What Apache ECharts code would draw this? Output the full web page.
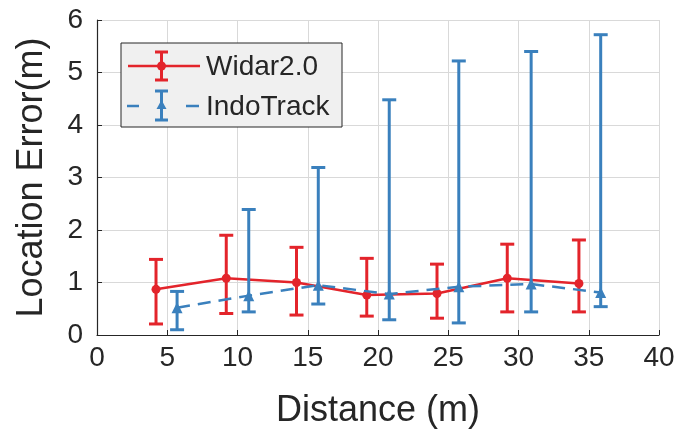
<!DOCTYPE html>
<html>
<head>
<meta charset="utf-8">
<script src="https://cdn.jsdelivr.net/npm/echarts@6/dist/echarts.min.js"></script>
<style>
html,body{margin:0;padding:0;background:#fff;}
#chart{width:687px;height:439px;}
</style>
</head>
<body>
<div id="chart"></div>
<script>
// Data
const widarX    = [4.2, 9.2, 14.2, 19.2, 24.2, 29.2, 34.3];
const widarY    = [0.87, 1.08, 1.00, 0.76, 0.79, 1.08, 0.98];
const widarLow  = [0.21, 0.41, 0.38, 0.36, 0.32, 0.44, 0.44];
const widarHigh = [1.44, 1.90, 1.67, 1.46, 1.35, 1.73, 1.81];

const indoX    = [5.7, 10.8, 15.75, 20.8, 25.75, 30.9, 35.85];
const indoY    = [0.52, 0.75, 0.95, 0.78, 0.92, 0.97, 0.81];
const indoLow  = [0.10, 0.44, 0.59, 0.29, 0.23, 0.44, 0.54];
const indoHigh = [0.83, 2.39, 3.19, 4.48, 5.22, 5.40, 5.72];

const xTicks = [0, 5, 10, 15, 20, 25, 30, 35, 40];
const yTicks = [0, 1, 2, 3, 4, 5, 6];

const seriesNames = ['Widar2.0', 'IndoTrack'];
const RED = '#e3242b';
const BLUE = '#3a80bd';
const FONT = 'Liberation Sans, Arial, Helvetica, sans-serif';
const TXT = '#262626';

function pairs(xs, ys) { return xs.map((x, i) => [x, ys[i]]); }
function errData(xs, lo, hi) { return xs.map((x, i) => [x, lo[i], hi[i]]); }

function errRender(color) {
  return function (params, api) {
    const x = api.value(0);
    const pLo = api.coord([x, api.value(1)]);
    const pHi = api.coord([x, api.value(2)]);
    const hw = 7;
    const st = { stroke: color, lineWidth: 3 };
    return {
      type: 'group',
      children: [
        { type: 'line', shape: { x1: pLo[0], y1: pLo[1], x2: pHi[0], y2: pHi[1] }, style: st },
        { type: 'line', shape: { x1: pLo[0] - hw, y1: pLo[1], x2: pLo[0] + hw, y2: pLo[1] }, style: st },
        { type: 'line', shape: { x1: pHi[0] - hw, y1: pHi[1], x2: pHi[0] + hw, y2: pHi[1] }, style: st }
      ]
    };
  };
}

const chart = echarts.init(document.getElementById('chart'), null, { renderer: 'canvas' });

const legendGraphic = [
  { type: 'rect', shape: { x: 121, y: 43, width: 221, height: 84 },
    style: { fill: '#f0f0f0', stroke: '#262626', lineWidth: 1 }, z: 100 },
  // Widar2.0 icon
  { type: 'line', shape: { x1: 128, y1: 66, x2: 200, y2: 66 }, style: { stroke: RED, lineWidth: 2.5 }, z: 101 },
  { type: 'line', shape: { x1: 161.5, y1: 52, x2: 161.5, y2: 80 }, style: { stroke: RED, lineWidth: 3 }, z: 101 },
  { type: 'line', shape: { x1: 155, y1: 52, x2: 168, y2: 52 }, style: { stroke: RED, lineWidth: 3 }, z: 101 },
  { type: 'line', shape: { x1: 155, y1: 80, x2: 168, y2: 80 }, style: { stroke: RED, lineWidth: 3 }, z: 101 },
  { type: 'circle', shape: { cx: 161.5, cy: 66, r: 4.5 }, style: { fill: RED }, z: 101 },
  { type: 'text', x: 206, y: 67, style: { text: seriesNames[0], font: '28px ' + FONT, fill: TXT, textVerticalAlign: 'middle' }, z: 101 },
  // IndoTrack icon
  { type: 'line', shape: { x1: 127, y1: 106, x2: 139, y2: 106 }, style: { stroke: BLUE, lineWidth: 2.5 }, z: 101 },
  { type: 'line', shape: { x1: 186, y1: 106, x2: 199, y2: 106 }, style: { stroke: BLUE, lineWidth: 2.5 }, z: 101 },
  { type: 'line', shape: { x1: 161.5, y1: 91, x2: 161.5, y2: 120 }, style: { stroke: BLUE, lineWidth: 3 }, z: 101 },
  { type: 'line', shape: { x1: 155, y1: 91, x2: 168, y2: 91 }, style: { stroke: BLUE, lineWidth: 3 }, z: 101 },
  { type: 'line', shape: { x1: 155, y1: 120, x2: 168, y2: 120 }, style: { stroke: BLUE, lineWidth: 3 }, z: 101 },
  { type: 'polygon', shape: { points: [[161.5, 100], [156.5, 109], [166.5, 109]] }, style: { fill: BLUE }, z: 101 },
  { type: 'text', x: 206, y: 107, style: { text: seriesNames[1], font: '28px ' + FONT, fill: TXT, textVerticalAlign: 'middle' }, z: 101 }
];

const option = {
  animation: false,
  backgroundColor: '#ffffff',
  grid: { left: 97, right: 28, top: 20, bottom: 104, containLabel: false },
  xAxis: {
    type: 'value', min: xTicks[0], max: xTicks[xTicks.length - 1], interval: 5,
    name: 'Distance (m)', nameLocation: 'middle', nameGap: 58,
    nameTextStyle: { fontFamily: FONT, fontSize: 36, color: TXT },
    axisLine: { show: true, onZero: false, lineStyle: { color: TXT, width: 1.2 } },
    axisTick: { show: true, inside: true, length: 5, lineStyle: { color: TXT } },
    axisLabel: { fontFamily: FONT, fontSize: 28, color: TXT, margin: 9 },
    splitLine: { show: true, lineStyle: { color: '#d9d9d9', width: 1 } }
  },
  yAxis: {
    type: 'value', min: yTicks[0], max: yTicks[yTicks.length - 1], interval: 1,
    name: 'Location Error(m)', nameLocation: 'middle', nameGap: 47,
    nameTextStyle: { fontFamily: FONT, fontSize: 36, color: TXT },
    axisLine: { show: true, lineStyle: { color: TXT, width: 1.2 } },
    axisTick: { show: true, inside: true, length: 5, lineStyle: { color: TXT } },
    axisLabel: { fontFamily: FONT, fontSize: 28, color: TXT, margin: 14 },
    splitLine: { show: true, lineStyle: { color: '#d9d9d9', width: 1 } }
  },
  graphic: legendGraphic,
  series: [
    {
      name: seriesNames[0], type: 'custom', renderItem: errRender(RED),
      data: errData(widarX, widarLow, widarHigh), encode: { x: 0, y: [1, 2] }, z: 3
    },
    {
      name: seriesNames[0], type: 'line', data: pairs(widarX, widarY),
      symbol: 'circle', symbolSize: 9,
      lineStyle: { color: RED, width: 2.5 }, itemStyle: { color: RED }, z: 4
    },
    {
      name: seriesNames[1], type: 'custom', renderItem: errRender(BLUE),
      data: errData(indoX, indoLow, indoHigh), encode: { x: 0, y: [1, 2] }, z: 5
    },
    {
      name: seriesNames[1], type: 'line', data: pairs(indoX, indoY),
      symbol: 'triangle', symbolSize: 11,
      lineStyle: { color: BLUE, width: 2.5, type: [13, 8] }, itemStyle: { color: BLUE }, z: 6
    }
  ]
};
chart.setOption(option);
</script>
</body>
</html>
